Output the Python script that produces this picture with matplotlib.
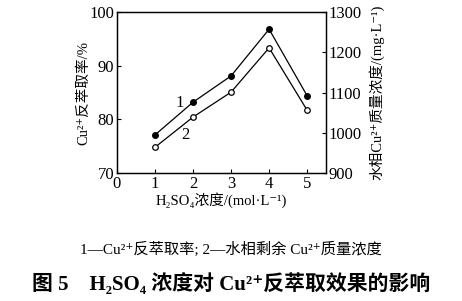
import matplotlib.pyplot as plt
import matplotlib

matplotlib.rcParams['font.family'] = ['Liberation Serif', 'Noto Sans CJK SC', 'DejaVu Sans']

h2so4 = [1, 2, 3, 4, 5]
extract_rate = [77.1, 83.2, 88.1, 96.8, 84.4]      # 曲线1, 左轴 %
cu_remain = [964, 1039, 1101, 1211, 1056]          # 曲线2, 右轴 mg/L
xticks = [0, 1, 2, 3, 4, 5]
left_ticks = [70, 80, 90, 100]
right_ticks = [900, 1000, 1100, 1200, 1300]

fig = plt.figure(figsize=(4.62, 3.01), dpi=100)
ax = fig.add_axes([0.253, 0.425, 0.453, 0.535])
ax2 = ax.twinx()

ax.plot(h2so4, extract_rate, color='black', lw=0.9, marker='o', ms=4,
        mfc='black', mec='black', zorder=3)
ax2.plot(h2so4, cu_remain, color='black', lw=0.9, marker='o', ms=4,
         mfc='white', mec='black', mew=0.9, zorder=3)

ax.set_xlim(0, 5.5)
ax.set_ylim(70, 100)
ax2.set_ylim(900, 1300)
ax.set_xticks(xticks)
ax.set_yticks(left_ticks)
ax2.set_yticks(right_ticks)

for a in (ax, ax2):
    a.tick_params(direction='in', length=3, width=0.8, labelsize=12, pad=2)
    for s in a.spines.values():
        s.set_linewidth(0.9)

ax.text(1.53, 82.4, '1', fontsize=12)
ax.text(1.68, 76.4, '2', fontsize=12)

ax.set_xlabel('H₂SO₄浓度/(mol·L⁻¹)', fontsize=10.5, labelpad=0)
ax.set_ylabel('Cu²⁺反萃取率/%', fontsize=10.5, labelpad=-1)
ax2.set_ylabel('水相Cu²⁺质量浓度/(mg·L⁻¹)', fontsize=10.5, labelpad=5)

fig.text(0.5, 0.173, '1—Cu²⁺反萃取率; 2—水相剩余 Cu²⁺质量浓度',
         ha='center', va='center', fontsize=11)
fig.text(0.5, 0.056, '图 5    H₂SO₄ 浓度对 Cu²⁺反萃取效果的影响',
         ha='center', va='center', fontsize=15, fontweight='bold')

fig.savefig('out.png', dpi=100)
